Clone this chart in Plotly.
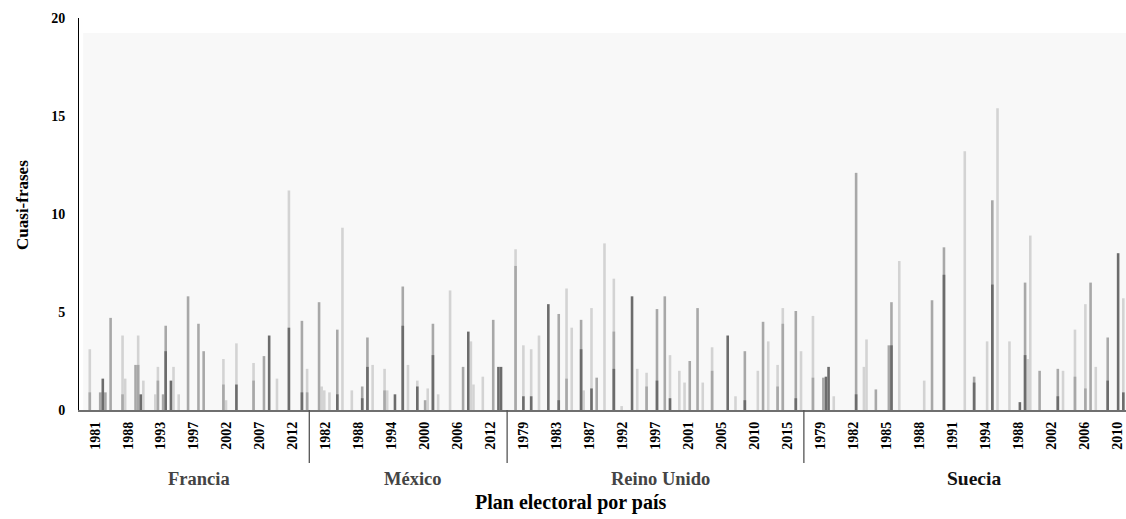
import plotly.graph_objects as go

# ---------------- data ----------------
paises = ["Francia"] * 7 + ["México"] * 6 + ["Reino Unido"] * 9 + ["Suecia"] * 10
anios = ["1981", "1988", "1993", "1997", "2002", "2007", "2012",
         "1982", "1988", "1994", "2000", "2006", "2012",
         "1979", "1983", "1987", "1992", "1997", "2001", "2005", "2010", "2015",
         "1979", "1982", "1985", "1988", "1991", "1994", "1988", "2002", "2006", "2010"]
grupos_pais = ["Francia", "México", "Reino Unido", "Suecia"]

# values per election, 10 party slots each; three shades (light, mid, dark) overlaid per slot
fr_claro = [[3.1, 0, 0, 0, 0, 0, 0, 0, 0, 0],
            [3.8, 1.6, 0, 0, 0, 0, 3.8, 0, 1.5, 0],
            [0.8, 2.2, 0, 0, 0, 0, 0, 2.2, 0, 0.8],
            [0, 0, 0, 0, 0, 0, 0, 0, 0, 0],
            [0, 2.6, 0.5, 0, 0, 0, 3.4, 0, 0, 0],
            [2.4, 0, 0, 0, 0, 0, 0, 0, 0, 1.6],
            [0, 11.2, 0, 0, 0, 0, 0, 0, 2.1, 0]]
fr_medio = [[0.9, 0, 0, 0, 0.9, 0.9, 0.9, 0, 4.7, 0],
            [0.8, 0, 0, 0, 0, 2.3, 2.3, 0, 0, 0],
            [0, 1.5, 0, 0.8, 4.3, 0, 0, 0, 0, 0],
            [5.8, 0, 0, 0, 4.4, 0, 3.0, 0, 0, 0],
            [0, 1.3, 0, 0, 0, 0, 0, 0, 0, 0],
            [1.5, 0, 0, 0, 2.75, 0, 0, 0, 0, 0],
            [0, 0, 0, 0, 0, 0, 4.55, 0, 0.9, 0]]
fr_oscuro = [[0, 0, 0, 0, 0, 1.6, 0, 0, 0, 0],
             [0, 0, 0, 0, 0, 0, 0, 0.8, 0, 0],
             [0, 0, 0, 0, 3.0, 0, 1.5, 0, 0, 0],
             [0, 0, 0, 0, 0, 0, 0, 0, 0, 0],
             [0, 0, 0, 0, 0, 0, 1.3, 0, 0, 0],
             [0, 0, 0, 0, 0, 0, 3.8, 0, 0, 0],
             [0, 4.2, 0, 0, 0, 0, 0.9, 0, 0, 0]]

mx_claro = [[0, 1.2, 1.0, 0, 0.9, 0, 0, 0, 0, 9.3],
            [1.0, 0, 0, 0, 0, 0, 0, 0, 2.3, 0],
            [2.1, 1.0, 0, 0, 0, 0, 0, 0, 0, 2.3],
            [1.5, 0, 0, 0, 1.1, 0, 0, 0, 0.8, 0],
            [6.1, 0, 0, 0, 0, 0, 0, 0, 3.5, 1.3],
            [1.7, 0, 0, 0, 0, 0, 0, 0, 0, 0]]
mx_medio = [[5.5, 0, 0, 0, 0, 0, 0, 4.1, 0, 0],
            [0, 0, 0, 0, 1.2, 0, 3.7, 0, 0, 0],
            [1.0, 0, 0, 0, 0, 0, 0, 6.3, 0, 0],
            [0, 0, 0, 0.5, 0, 0, 4.4, 0, 0, 0],
            [0, 0, 0, 0, 0, 2.2, 0, 0, 0, 0],
            [0, 0, 0, 0, 4.6, 0, 0, 0, 0, 0]]
mx_oscuro = [[0, 0, 0, 0, 0, 0, 0, 0.8, 0, 0],
             [0, 0, 0, 0, 0.6, 0, 2.2, 0, 0, 0],
             [0, 0, 0, 0, 0.8, 0, 0, 4.3, 0, 0],
             [1.2, 0, 0, 0, 0, 0, 2.8, 0, 0, 0],
             [0, 0, 0, 0, 0, 0, 0, 4.0, 0, 0],
             [0, 0, 0, 0, 0, 0, 2.2, 2.2, 0, 0]]

ru_claro = [[8.2, 0, 0, 3.3, 0, 0, 3.1, 0, 0, 3.8],
            [0, 0, 0, 0, 0, 0, 0, 6.2, 0, 4.2],
            [0, 1.0, 0, 0, 5.2, 0, 0, 0, 0, 8.5],
            [6.7, 0, 0, 0.2, 0, 0, 0, 0, 0, 2.1],
            [1.9, 0, 0, 0, 0, 0, 0, 0, 0, 2.8],
            [2.0, 0, 1.4, 0, 0, 0, 0, 0, 0, 1.4],
            [3.2, 0, 0, 0, 0, 0, 0, 0, 0, 0.7],
            [0, 0, 0, 0, 0, 2.0, 0, 0, 0, 3.5],
            [2.3, 0, 5.2, 0, 0, 0, 0, 0, 0, 3.0]]
ru_medio = [[7.35, 0, 0, 0, 0, 0, 0, 0, 0, 0],
            [0, 0, 0, 0, 4.9, 0, 0, 1.6, 0, 0],
            [4.6, 0, 0, 0, 0, 0, 1.65, 0, 0, 0],
            [4.0, 0, 0, 0, 0, 0, 0, 0, 0, 0],
            [1.2, 0, 0, 0, 5.15, 0, 0, 5.8, 0, 0],
            [0, 0, 0, 0, 2.5, 0, 0, 5.2, 0, 0],
            [2.0, 0, 0, 0, 0, 0, 0, 0, 0, 0],
            [3.0, 0, 0, 0, 0, 0, 0, 4.5, 0, 0],
            [1.2, 0, 4.4, 0, 0, 0, 0, 5.05, 0, 0]]
ru_oscuro = [[0, 0, 0, 0.7, 0, 0, 0.7, 0, 0, 0],
             [5.4, 0, 0, 0, 0.5, 0, 0, 0, 0, 0],
             [3.1, 0, 0, 0, 1.1, 0, 0, 0, 0, 0],
             [2.1, 0, 0, 0, 0, 0, 0, 5.8, 0, 0],
             [0, 0, 0, 0, 1.5, 0, 0, 0, 0, 0.6],
             [0, 0, 0, 0, 0, 0, 0, 0, 0, 0],
             [0, 0, 0, 0, 0, 0, 3.8, 0, 0, 0],
             [0.5, 0, 0, 0, 0, 0, 0, 0, 0, 0],
             [0, 0, 0, 0, 0, 0, 0, 0.6, 0, 0]]

se_claro = [[0, 4.8, 0, 0, 0, 0, 0, 0, 0, 0.7],
            [0, 0, 0, 0, 0, 0, 0, 0, 2.2, 3.6],
            [0, 0, 0, 0, 0, 0, 0, 0, 0, 7.6],
            [0, 0, 0, 0, 0, 0, 1.5, 0, 0, 0],
            [0, 0, 0, 0, 0, 0, 0, 0, 0, 13.2],
            [0, 0, 0, 0, 0, 3.5, 0, 0, 0, 15.4],
            [0, 3.5, 0, 0, 0, 0, 0, 0, 2.6, 8.9],
            [0, 0, 0, 0, 0, 0, 0, 0, 0, 2.0],
            [0, 4.1, 0, 0, 0, 5.4, 0, 0, 0, 2.2],
            [0, 0, 0, 0, 0, 0, 0, 5.7, 0, 0]]
se_medio = [[0, 1.65, 0, 0, 0, 1.65, 0, 0, 0, 0],
            [0, 0, 0, 0, 0, 12.1, 0, 0, 0, 0],
            [1.05, 0, 0, 0, 0, 3.3, 5.5, 0, 0, 0],
            [0, 0, 0, 0, 0, 0, 0, 0, 0, 5.6],
            [0, 8.3, 0, 0, 0, 0, 0, 0, 0, 0],
            [1.7, 0, 0, 0, 0, 0, 0, 10.7, 0, 0],
            [0, 0, 0, 0, 0, 0, 0, 6.5, 0, 0],
            [2.0, 0, 0, 0, 0, 0, 0, 2.1, 0, 0],
            [0, 1.7, 0, 0, 0, 1.1, 0, 6.5, 0, 0],
            [0, 3.7, 0, 0, 0, 0, 0, 0, 0, 0]]
se_oscuro = [[0, 0, 0, 0, 0, 0, 1.7, 2.2, 0, 0],
             [0, 0, 0, 0, 0, 0.8, 0, 0, 0, 0],
             [0, 0, 0, 0, 0, 0, 3.3, 0, 0, 0],
             [0, 0, 0, 0, 0, 0, 0, 0, 0, 0],
             [0, 6.9, 0, 0, 0, 0, 0, 0, 0, 0],
             [1.4, 0, 0, 0, 0, 0, 0, 6.4, 0, 0],
             [0, 0, 0, 0, 0, 0.4, 0, 2.8, 0, 0],
             [0, 0, 0, 0, 0, 0, 0, 0.7, 0, 0],
             [0, 0, 0, 0, 0, 0, 0, 0, 0, 0],
             [0, 1.5, 0, 0, 0, 8.0, 0, 0.9, 0, 0]]

# ---------------- figure ----------------
FONT = "Liberation Serif, Times New Roman, serif"
claro = fr_claro + mx_claro + ru_claro + se_claro
medio = fr_medio + mx_medio + ru_medio + se_medio
oscuro = fr_oscuro + mx_oscuro + ru_oscuro + se_oscuro
capas = [(claro, "#d3d3d3"), (medio, "#a8a8a8"), (oscuro, "#6c6c6c")]
n_cat = len(anios)
n_slot = len(claro[0])
xs = list(range(n_cat))

fig = go.Figure()
for vals, color in capas:
    for j in range(n_slot):
        ys = [vals[i][j] if vals[i][j] else None for i in range(n_cat)]
        fig.add_trace(go.Bar(
            x=xs, y=ys, offsetgroup=str(j), marker=dict(color=color, line=dict(width=0)),
            showlegend=False, hoverinfo="skip"))

# invisible helper trace for the label axis
fig.add_trace(go.Scatter(x=xs, y=[None] * n_cat, xaxis="x2", mode="markers",
                         marker=dict(opacity=0), showlegend=False, hoverinfo="skip"))

# country group labels and separators
bounds = []
start = 0
for p in grupos_pais:
    cnt = paises.count(p)
    bounds.append((p, start, start + cnt - 1))
    start += cnt

annotations = []
shapes = []
for k, (p, a, b) in enumerate(bounds):
    is_last = p == "Suecia"
    annotations.append(dict(
        x=(a + b) / 2 + 0.15, xref="x2", y=-0.176, yref="paper", text=p, showarrow=False,
        xanchor="center", yanchor="middle",
        font=dict(family=FONT, size=19.5 if is_last else 18.5, color="#111" if is_last else "#444",
                  weight="bold")))
    if k < len(bounds) - 1:
        shapes.append(dict(type="line", xref="x2", yref="paper", x0=b + 0.5, x1=b + 0.5,
                           y0=0, y1=-0.135, line=dict(color="#555", width=1.3)))

annotations.append(dict(x=(473 - 79) / 1047, xref="paper", y=-0.237, yref="paper",
                        text="Plan electoral por país", showarrow=False, xanchor="left",
                        yanchor="middle", font=dict(family=FONT, size=20, color="#000", weight="bold")))
annotations.append(dict(x=-0.0535, xref="paper", y=0.523, yref="paper", text="Cuasi-frases",
                        textangle=-90, showarrow=False, xanchor="center", yanchor="middle",
                        font=dict(family=FONT, size=17, color="#000", weight="bold")))

shapes.append(dict(type="rect", xref="paper", yref="y", x0=0.004, x1=1, y0=0, y1=19.23,
                   fillcolor="#f8f8f8", line=dict(width=0), layer="below"))

fig.update_layout(
    width=1126, height=519,
    margin=dict(l=79, r=0, t=18, b=109, autoexpand=False),
    paper_bgcolor="white", plot_bgcolor="white",
    barmode="group", bargap=0.206, bargroupgap=0,
    font=dict(family=FONT, color="#000"),
    xaxis=dict(range=[-0.687, 31.28], showticklabels=False, ticks="", showgrid=False,
               zeroline=False, showline=True, linecolor="#6f6f6f", linewidth=1.5,
               automargin=False),
    xaxis2=dict(overlaying="x", anchor="y", side="bottom", range=[-0.485, 31.27],
                tickmode="array", tickvals=xs, ticktext=anios, tickangle=-90,
                tickfont=dict(family=FONT, size=14, color="#000", weight="bold"),
                showgrid=False, zeroline=False, showline=False, ticks="",
                ticklabelstandoff=8, automargin=False),
    yaxis=dict(range=[0, 20], tickvals=[0, 5, 10, 15, 20], showgrid=False, zeroline=False,
               showline=True, linecolor="#000", linewidth=1, ticks="",
               tickfont=dict(family=FONT, size=14, color="#000", weight="bold"),
               ticklabelstandoff=10, automargin=False),
    annotations=annotations,
    shapes=shapes,
)

fig.write_html("out.html", config={"displayModeBar": False, "staticPlot": True},
               post_script="document.body.style.margin='0';document.body.style.overflow='hidden';")
